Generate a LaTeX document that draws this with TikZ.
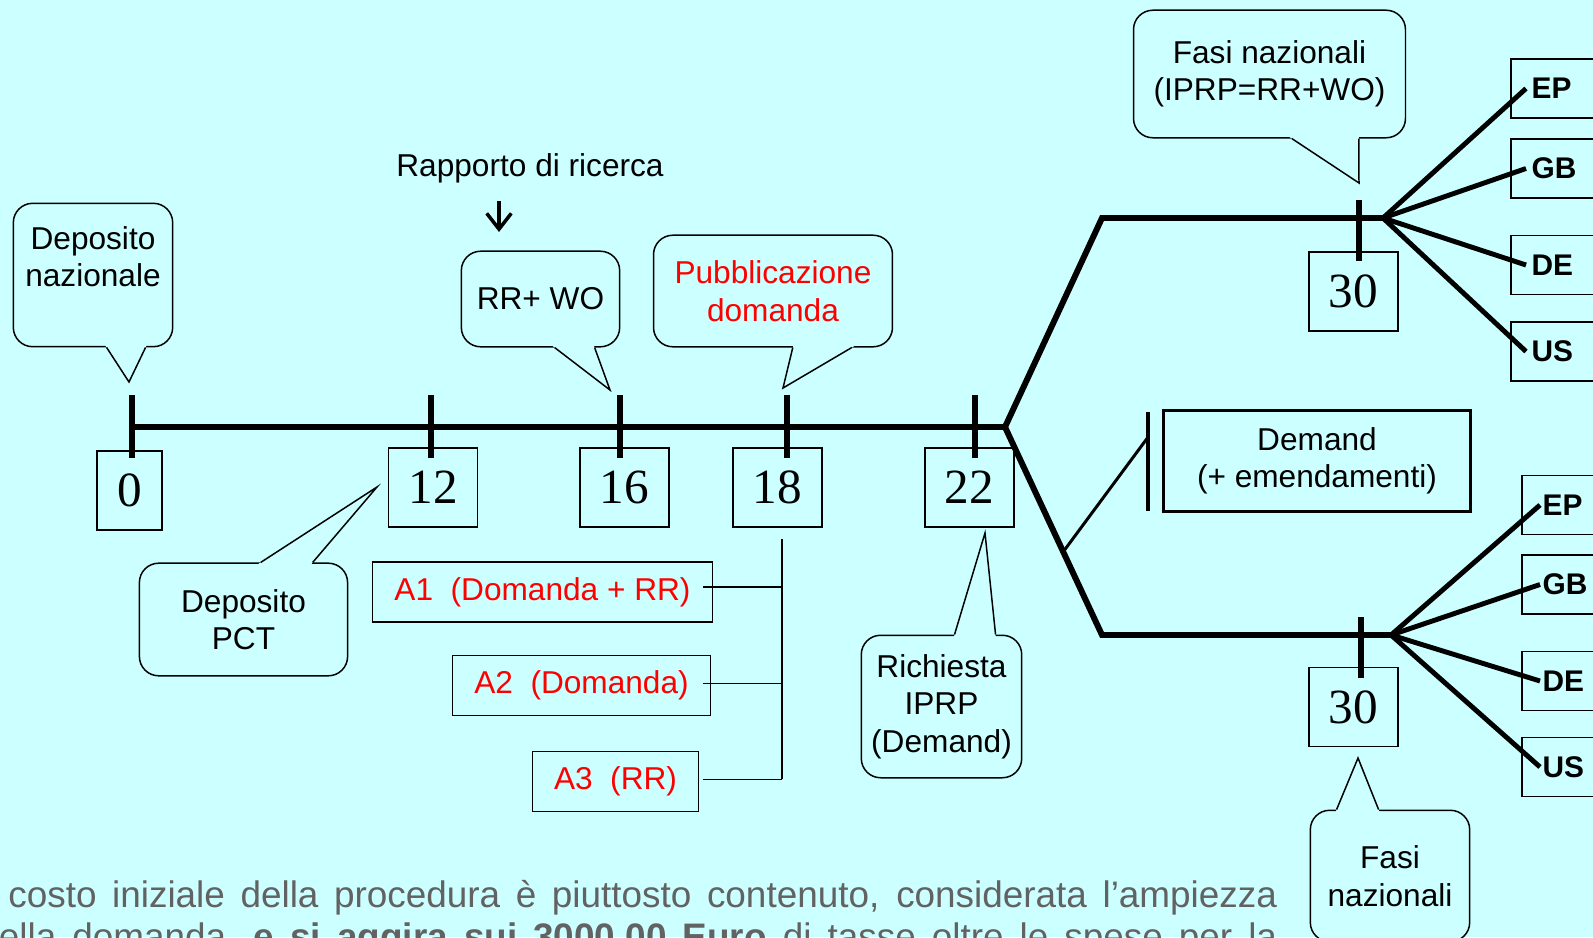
\documentclass[tikz,border=0pt]{standalone}
\usepackage{fontspec}
\setmainfont{Liberation Sans}
\newfontfamily\tempi{Liberation Serif}
\usetikzlibrary{calc,arrows.meta}

\definecolor{sfondo}{RGB}{204,255,255}
\definecolor{grigio}{RGB}{98,98,98}

\tikzset{
  spesso/.style={line width=3.4pt},
  fuso/.style={line width=2.8pt},
  medio/.style={line width=1.7pt},
  sottile/.style={line width=0.85pt},
  nuvola/.style={draw, sottile, fill=sfondo, rounded corners=11pt, align=center, inner sep=0pt},
  mese/.style={draw, sottile, inner sep=0pt, minimum width=50.5pt, minimum height=44.8pt,
    font=\tempi\fontsize{28}{30}\selectfont},
  pubbl/.style={draw, sottile, inner sep=0pt, minimum height=34.3pt, text=red},
  paese/.style={draw, sottile, anchor=west, minimum height=33.4pt, text width=34pt,
    inner xsep=11.9pt, inner ysep=0pt, align=left, font=\bfseries\fontsize{17}{20}\selectfont},
}

% punta di un fumetto: base, vertice, base
\newcommand{\punta}[3]{%
  \fill[sfondo] ($(#1)!-2pt!(#2)$) -- (#2) -- ($(#3)!-2pt!(#2)$) -- cycle;
  \draw[sottile, line join=miter] (#1) -- (#2) -- (#3);}

\begin{document}
\begin{tikzpicture}[x=0.02cm, y=-0.02cm, font=\fontsize{18}{21.3}\selectfont]
  \useasboundingbox (0,0) rectangle (1593,937);
  \clip (0,0) rectangle (1593,937);
  \fill[sfondo] (0,0) rectangle (1593,937);

  % punti della linea del tempo
  \coordinate (t0) at (132,427);
  \coordinate (t12) at (431,427);
  \coordinate (t16) at (620,427);
  \coordinate (t18) at (787,427);
  \coordinate (t22) at (975,427);
  \coordinate (bivio) at (1005,427);
  \coordinate (alto) at (1102,218);
  \coordinate (basso) at (1102,635);
  \coordinate (t30a) at (1359,218);
  \coordinate (t30b) at (1361,635);
  \coordinate (ventaglioA) at (1383,218);
  \coordinate (ventaglioB) at (1391,635);

  % caselle dei mesi
  \node[mese, minimum width=36.9pt] (m0) at (129.5,490.5) {0};
  \node[mese] (m12) at (433,487.5) {12};
  \node[mese] (m16) at (624.5,487.5) {16};
  \node[mese] (m18) at (777.5,487.5) {18};
  \node[mese] (m22) at (969.5,487.5) {22};
  \node[mese] (m30a) at (1353.5,291.5) {30};
  \node[mese] (m30b) at (1353.5,707) {30};

  \draw[spesso] (t0) -- (bivio);
  \draw[spesso, line join=miter] (ventaglioA) -- (alto) -- (bivio) -- (basso) -- (ventaglioB);
  \foreach \t in {t0,t12,t16,t18,t22}
    \draw[spesso] ($(\t)+(0,-32)$) -- ($(\t)+(0,31)$);
  \foreach \t in {t30a,t30b}
    \draw[spesso] ($(\t)+(0,-18)$) -- ($(\t)+(0,43)$);

  % fumetti
  \node[nuvola, minimum width=90.7pt, minimum height=81.6pt] (depnaz) at (93,275) {Deposito\\nazionale\\\mbox{}};
  \coordinate (depnaz1) at ($(depnaz.south west)+(94,0)$);
  \coordinate (depnaz2) at ($(depnaz.south west)+(133,0)$);
  \coordinate (depnazp) at (129,382);
  \punta{depnaz1}{depnazp}{depnaz2}

  \node[nuvola, minimum width=90.1pt, minimum height=54.4pt] (rrwo) at (540.5,299) {RR+ WO};
  \coordinate (rrwo1) at ($(rrwo.south west)+(94,0)$);
  \coordinate (rrwo2) at ($(rrwo.south west)+(134,0)$);
  \coordinate (rrwop) at (610,390);
  \punta{rrwo1}{rrwop}{rrwo2}

  \node[nuvola, text=red, minimum width=136pt, minimum height=63.5pt] (pubbl) at (773,291) {Pubblicazione\\domanda};
  \coordinate (pubbl1) at ($(pubbl.south west)+(140,0)$);
  \coordinate (pubbl2) at ($(pubbl.south west)+(199,0)$);
  \coordinate (pubblp) at (783,388);
  \punta{pubbl1}{pubblp}{pubbl2}

  \node[nuvola, minimum width=154.8pt, minimum height=72.6pt] (fasialto) at (1269.5,74) {Fasi nazionali\\(IPRP=RR+WO)};
  \coordinate (fasialto1) at ($(fasialto.south west)+(159,0)$);
  \coordinate (fasialto2) at ($(fasialto.south west)+(226,0)$);
  \coordinate (fasialtop) at (1359,183);
  \punta{fasialto1}{fasialtop}{fasialto2}

  \node[nuvola, minimum width=118.5pt, minimum height=64.1pt] (pct) at (243.5,619.5) {Deposito\\PCT};
  \coordinate (pct1) at ($(pct.north west)+(122,0)$);
  \coordinate (pct2) at ($(pct.north west)+(174,0)$);
  \coordinate (pctp) at (377,487);
  \punta{pct1}{pctp}{pct2}

  \node[nuvola, minimum width=91.3pt, minimum height=81.1pt] (iprp) at (941.5,706.5) {Richiesta\\IPRP\\(Demand)};
  \coordinate (iprp1) at ($(iprp.north west)+(94,0)$);
  \coordinate (iprp2) at ($(iprp.north west)+(135,0)$);
  \coordinate (iprpp) at (985,533);
  \punta{iprp1}{iprpp}{iprp2}

  \node[nuvola, minimum width=90.7pt, minimum height=74.8pt] (fasibasso) at (1390,876) {Fasi\\nazionali};
  \coordinate (fasibasso1) at ($(fasibasso.north west)+(27,0)$);
  \coordinate (fasibasso2) at ($(fasibasso.north west)+(69,0)$);
  \coordinate (fasibassop) at (1358,758);
  \punta{fasibasso1}{fasibassop}{fasibasso2}

  \node (rapporto) at (530,168) {Rapporto di ricerca};
  \draw[line width=2pt, -{Straight Barb[length=9pt,width=14pt,line width=2pt]}] ($(rapporto.center)+(-31,33)$) -- ($(rapporto.center)+(-31,64)$);

  % pubblicazioni A1 A2 A3
  \node[pubbl, minimum width=193.3pt] (a1) at (542.5,592) {A1\ \ (Domanda + RR)};
  \node[pubbl, minimum width=146.8pt] (a2) at (581.5,685.5) {A2\ \ (Domanda)};
  \node[pubbl, minimum width=94.7pt] (a3) at (615.5,781.5) {A3\ \ (RR)};
  \coordinate (gtop) at (782,539);
  \coordinate (gbot) at (782,779);
  \draw[sottile] (gtop) -- (gbot);
  \foreach \a/\dx/\dy in {a1/-10/-5,a2/-8/-2,a3/4/-2}
    \draw[sottile] ($(\a.east)+(\dx,\dy)$) -- ($(\a.east -| gtop)+(0,\dy)$);

  % demand
  \node[draw, medio, minimum width=174.6pt, minimum height=57.8pt, align=center] (demand) at (1317,461) {Demand\\(+ emendamenti)};
  \draw[line width=2pt] ($(demand.west)+(-14,-49)$) -- ($(demand.west)+(-14,50)$);
  \draw[medio] ($(bivio)!0.6!(basso)$) -- ($(demand.west)+(-14,-24)$);

  % fasi nazionali
  \foreach \p/\y in {EP/88.5,GB/168.5,DE/265,US/351.5} {
    \node[paese] (su\p) at (1510,\y) {\p};
    \draw[fuso] (ventaglioA) -- ($(su\p.west)+(16,0)$);
  }
  \foreach \p/\y in {EP/505,GB/584.5,DE/681,US/767} {
    \node[paese] (giu\p) at (1521,\y) {\p};
    \draw[fuso] (ventaglioB) -- ($(giu\p.west)+(19,0)$);
  }

  % testo sotto
  \node[anchor=base west, inner sep=0pt, text=grigio, font=\fontsize{21}{24}\selectfont] (riga1) at (-26,907)
    {\makebox[26.06cm][s]{Il costo iniziale della procedura è piuttosto contenuto, considerata l’ampiezza}};
  \node[anchor=base west, inner sep=0pt, text=grigio, font=\fontsize{21}{24}\selectfont] (riga2) at (-22,949)
    {\makebox[25.98cm][s]{della domanda, \textbf{e si aggira sui 3000,00 Euro} di tasse oltre le spese per la}};
\end{tikzpicture}
\end{document}
